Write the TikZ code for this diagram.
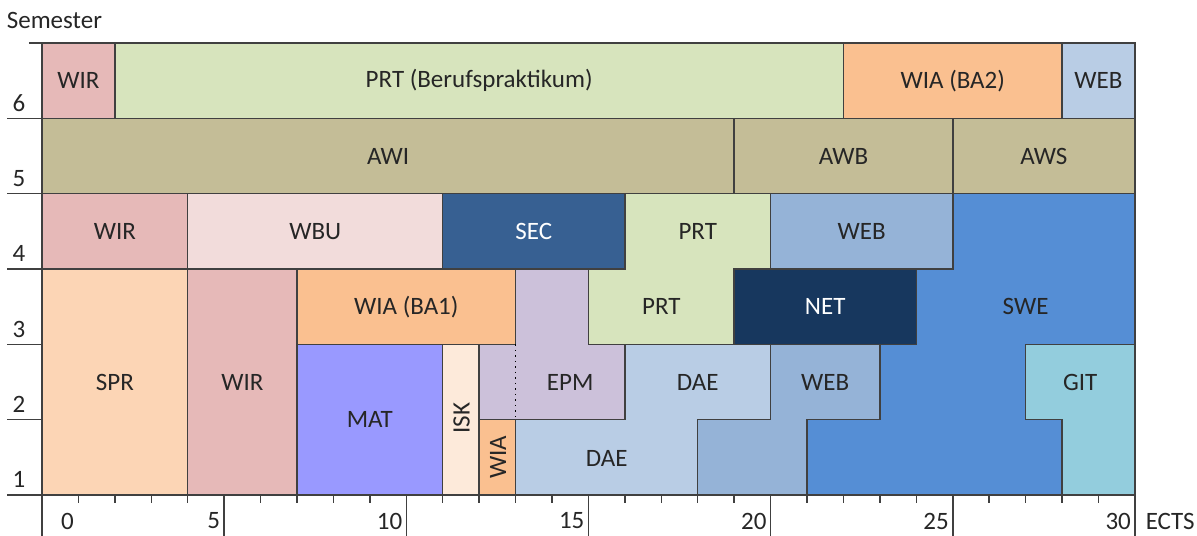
\documentclass[tikz,border=0pt]{standalone}
\usepackage{fontspec}
\setmainfont{Carlito}
\usepackage{tikz}

\definecolor{wirpink}{HTML}{E6B9B8}
\definecolor{wbupink}{HTML}{F2DCDB}
\definecolor{prtgreen}{HTML}{D7E4BD}
\definecolor{wiaorange}{HTML}{FAC090}
\definecolor{sprorange}{HTML}{FCD5B5}
\definecolor{iskorange}{HTML}{FDEADA}
\definecolor{awtan}{HTML}{C4BD97}
\definecolor{lightblue}{HTML}{B9CDE5}
\definecolor{webblue}{HTML}{95B3D7}
\definecolor{secblue}{HTML}{376092}
\definecolor{netblue}{HTML}{17375E}
\definecolor{sweblue}{HTML}{558ED5}
\definecolor{gitaqua}{HTML}{93CDDD}
\definecolor{epmlila}{HTML}{CCC1DA}
\definecolor{matblue}{HTML}{9999FF}

\tikzset{
  cell/.style={draw=black!75, line width=0.75pt},
  axisline/.style={draw=black!75, line width=0.75pt},
  lbl/.style={text=black!85, inner sep=0pt}
}

\begin{document}
\begin{tikzpicture}[x=18.215pt,y=37.665pt,font=\fontsize{12.5}{15}\selectfont]
\useasboundingbox (-1.153,-0.544) rectangle (31.705,6.571);
\draw[cell,fill=wirpink] (0,5) rectangle (2,6);
\draw[cell,fill=prtgreen] (2,5) rectangle (22,6);
\draw[cell,fill=wiaorange] (22,5) rectangle (28,6);
\draw[cell,fill=lightblue] (28,5) rectangle (30,6);
\draw[cell,fill=awtan] (0,4) rectangle (19,5);
\draw[cell,fill=awtan] (19,4) rectangle (25,5);
\draw[cell,fill=awtan] (25,4) rectangle (30,5);
\draw[cell,fill=wirpink] (0,3) rectangle (4,4);
\draw[cell,fill=wbupink] (4,3) rectangle (11,4);
\draw[cell,fill=secblue] (11,3) rectangle (16,4);
\draw[cell,fill=webblue] (20,3) rectangle (25,4);
\draw[cell,fill=prtgreen] (15,2) -- (19,2) -- (19,3) -- (20,3) -- (20,4) -- (16,4) -- (16,3) -- (15,3) -- cycle;
\draw[cell,fill=sweblue] (21,0) -- (28,0) -- (28,1) -- (27,1) -- (27,2) -- (30,2) -- (30,4) -- (25,4) -- (25,3) -- (24,3) -- (24,2) -- (23,2) -- (23,1) -- (21,1) -- cycle;
\draw[cell,fill=netblue] (19,2) rectangle (24,3);
\draw[cell,fill=sprorange] (0,0) rectangle (4,3);
\draw[cell,fill=wirpink] (4,0) rectangle (7,3);
\draw[cell,fill=wiaorange] (7,2) rectangle (13,3);
\draw[cell,fill=matblue] (7,0) rectangle (11,2);
\draw[cell,fill=iskorange] (11,0) rectangle (12,2);
\draw[cell,fill=wiaorange] (12,0) rectangle (13,1);
\draw[cell,fill=epmlila] (12,1) -- (16,1) -- (16,2) -- (15,2) -- (15,3) -- (13,3) -- (13,2) -- (12,2) -- cycle;
\draw[dotted,line width=0.75pt] (13,2) -- (13,1);
\draw[cell,fill=lightblue] (13,0) -- (18,0) -- (18,1) -- (20,1) -- (20,2) -- (16,2) -- (16,1) -- (13,1) -- cycle;
\draw[cell,fill=webblue] (18,0) -- (21,0) -- (21,1) -- (23,1) -- (23,2) -- (20,2) -- (20,1) -- (18,1) -- cycle;
\draw[cell,fill=gitaqua] (28,0) -- (30,0) -- (30,2) -- (27,2) -- (27,1) -- (28,1) -- cycle;

\node[lbl] (wir6) at (1,5.5) {WIR};
\node[lbl] (prt6) at (12,5.5) {PRT (Berufspraktikum)};
\node[lbl] (wia6) at (25,5.5) {WIA (BA2)};
\node[lbl] (web6) at (29,5.5) {WEB};
\node[lbl] (awi) at (9.5,4.5) {AWI};
\node[lbl] (awb) at (22,4.5) {AWB};
\node[lbl] (aws) at (27.5,4.5) {AWS};
\node[lbl] (wir4) at (2,3.5) {WIR};
\node[lbl] (wbu) at (7.5,3.5) {WBU};
\node[lbl,text=white] (sec) at (13.5,3.5) {SEC};
\node[lbl] (prt4) at (18,3.5) {PRT};
\node[lbl] (web4) at (22.5,3.5) {WEB};
\node[lbl] (swe) at (27,2.5) {SWE};
\node[lbl] (wia3) at (10,2.5) {WIA (BA1)};
\node[lbl] (prt3) at (17,2.5) {PRT};
\node[lbl,text=white] (net) at (21.5,2.5) {NET};
\node[lbl] (spr) at (2,1.5) {SPR};
\node[lbl] (wir1) at (5.5,1.5) {WIR};
\node[lbl] (mat) at (9,1) {MAT};
\node[lbl,rotate=90] (isk) at (11.52,1.02) {ISK};
\node[lbl,rotate=90] (wia1) at (12.52,0.5) {WIA};
\node[lbl] (epm) at (14.5,1.5) {EPM};
\node[lbl] (dae2) at (18,1.5) {DAE};
\node[lbl] (dae1) at (15.5,0.48) {DAE};
\node[lbl] (web2) at (21.5,1.5) {WEB};
\node[lbl] (git) at (28.5,1.5) {GIT};

\draw[axisline] (-0.96,0) -- (30,0);
\draw[axisline] (0,6) -- (0,-0.544);
\draw[axisline] (-0.36,6) -- (0,6);
\draw[axisline] (-0.96,1) -- (0,1) (-0.96,2) -- (0,2) (-0.96,3) -- (0,3)
  (-0.96,4) -- (0,4) (-0.96,5) -- (0,5);
\draw[axisline] (5,0) -- (5,-0.544) (10,0) -- (10,-0.544) (15,0) -- (15,-0.544)
  (20,0) -- (20,-0.544) (25,0) -- (25,-0.544) (30,0) -- (30,-0.544);
\draw[axisline] (1,0) -- (1,-0.11) (2,0) -- (2,-0.11) (3,0) -- (3,-0.11) (4,0) -- (4,-0.11)
  (6,0) -- (6,-0.11) (7,0) -- (7,-0.11) (8,0) -- (8,-0.11) (9,0) -- (9,-0.11)
  (11,0) -- (11,-0.11) (12,0) -- (12,-0.11) (13,0) -- (13,-0.11) (14,0) -- (14,-0.11)
  (16,0) -- (16,-0.11) (17,0) -- (17,-0.11) (18,0) -- (18,-0.11) (19,0) -- (19,-0.11)
  (21,0) -- (21,-0.11) (22,0) -- (22,-0.11) (23,0) -- (23,-0.11) (24,0) -- (24,-0.11)
  (26,0) -- (26,-0.11) (27,0) -- (27,-0.11) (28,0) -- (28,-0.11) (29,0) -- (29,-0.11);

\node[lbl] (sem) at (0.34,6.3) {Semester};
\node[lbl] (s1) at (-0.63,0.2) {1};
\node[lbl] (s2) at (-0.63,1.2) {2};
\node[lbl] (s3) at (-0.63,2.2) {3};
\node[lbl] (s4) at (-0.63,3.2) {4};
\node[lbl] (s5) at (-0.63,4.2) {5};
\node[lbl] (s6) at (-0.63,5.2) {6};
\node[lbl] (e0) at (0.7,-0.345) {0};
\node[lbl,anchor=east] (e5) at (4.9,-0.345) {5};
\node[lbl,anchor=east] (e10) at (9.9,-0.345) {10};
\node[lbl,anchor=east] (e15) at (14.9,-0.345) {15};
\node[lbl,anchor=east] (e20) at (19.9,-0.345) {20};
\node[lbl,anchor=east] (e25) at (24.9,-0.345) {25};
\node[lbl,anchor=east] (e30) at (29.9,-0.345) {30};
\node[lbl] (ects) at (30.97,-0.345) {ECTS};
\end{tikzpicture}
\end{document}
